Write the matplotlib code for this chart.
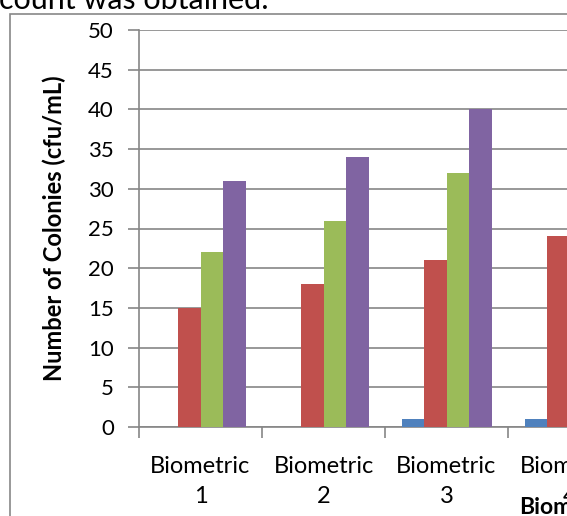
import matplotlib as mpl
import matplotlib.pyplot as plt
from matplotlib.patches import Rectangle
import numpy as np

mpl.rcParams['font.family'] = ['Lato', 'DejaVu Sans']

categories = ['Biometric\n1', 'Biometric\n2', 'Biometric\n3', 'Biometric\n4']
blue = [0, 0, 1, 1]
red = [15, 18, 21, 24]
green = [22, 26, 32, np.nan]
purple = [31, 34, 40, np.nan]
series = [blue, red, green, purple]
colors = ['#4F81BD', '#C0504D', '#9BBB59', '#8064A2']
yticks = list(range(0, 55, 5))

W, H = 567, 516
fig = plt.figure(figsize=(W / 100, H / 100), dpi=100)

# text above the chart (cut off in the screenshot)
fig.text(-1 / W, (H - 9) / H, 'count was obtained.', fontsize=22, va='baseline', ha='left',
         color='black')

# chart border
fig.patches.append(Rectangle((10 / W, -0.2), 1.2, 1 - 14 / H + 0.2, transform=fig.transFigure,
                             fill=False, edgecolor='#888888', linewidth=1.2))

# plot area runs past the right edge, like the cropped screenshot
cat_w = 123
x0, y0, y1 = 139, 427, 30
ax = fig.add_axes([x0 / W, (H - y0) / H, len(categories) * cat_w / W, (y0 - y1) / H])

x = np.arange(len(categories))
bw = 22.5 / cat_w
for i, (vals, c) in enumerate(zip(series, colors)):
    ax.bar(x + (i - 1.5) * bw, vals, width=bw, color=c, zorder=3)

ax.set_yticks(yticks)
ax.yaxis.grid(True, color='#868686', linewidth=1.2, zorder=0)

ax.set_xticks(x)
ax.set_xticklabels(categories, fontsize=17, linespacing=1.5)
ax.set_xticks(np.arange(len(categories) + 1) - 0.5, minor=True)
ax.set_xlim(-0.5, len(categories) - 0.5)
ax.set_ylim(0, 50)
ax.tick_params(axis='x', which='major', length=0, pad=21)
ax.tick_params(axis='x', which='minor', length=8, width=1.2, color='#868686')
ax.tick_params(axis='y', length=8, width=1.2, color='#868686', labelsize=16, pad=10)

for s in ['top', 'right']:
    ax.spines[s].set_visible(False)
for s in ['left', 'bottom']:
    ax.spines[s].set_color('#868686')
    ax.spines[s].set_linewidth(1.2)

ax.set_ylabel('Number of Colonies (cfu/mL)', fontsize=17, fontweight='bold', labelpad=16)

fig.text(519 / W, (H - 507) / H, 'Biometric', fontsize=16.5, fontweight='bold',
         ha='left', va='center')

fig.savefig('out.png', dpi=100)
